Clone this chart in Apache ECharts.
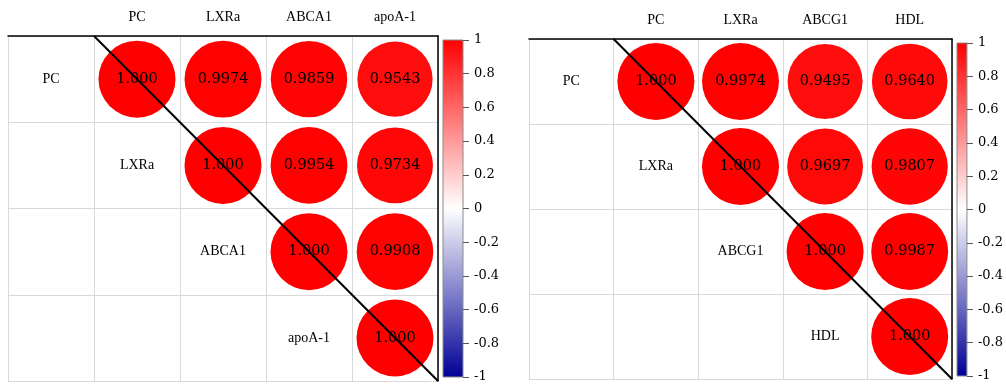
<!DOCTYPE html>
<html><head><meta charset="utf-8">
<script src="https://cdn.jsdelivr.net/npm/echarts@6/dist/echarts.min.js"></script>
<style>html,body{margin:0;padding:0;background:#fff}#c{width:1006px;height:384px}</style>
</head><body><div id="c"></div>
<script>
// ---- data ----
const varsA = ['PC', 'LXRa', 'ABCA1', 'apoA-1'];
const corrA = [
  [1, 0.9974, 0.9859, 0.9543],
  [null, 1, 0.9954, 0.9734],
  [null, null, 1, 0.9908],
  [null, null, null, 1]
];
const varsB = ['PC', 'LXRa', 'ABCG1', 'HDL'];
const corrB = [
  [1, 0.9974, 0.9495, 0.9640],
  [null, 1, 0.9697, 0.9807],
  [null, null, 1, 0.9987],
  [null, null, null, 1]
];
const colorScale = ['#000096', '#ffffff', '#ff0000'];   // -1 .. 0 .. 1
const cbMin = -1, cbMax = 1, cbStep = 0.2;

// ---- helpers ----
const SERIF = 'DejaVu Serif';
const LABEL_FONT = 'Liberation Serif';
function cells(m) {
  const out = [];
  m.forEach((row, i) => row.forEach((v, j) => { if (v !== null) out.push([j + 1, i, v]); }));
  return out;
}
function names(vars) { return vars.map((n, i) => ({ value: [i, i], name: n })); }
function diag(vars) { return [[1, 0], [vars.length + 1, vars.length]]; }
function fmt(v) { return v === 1 ? '1.000' : v.toFixed(4); }

const grids = [
  { left: 8, top: 36, width: 430, height: 345 },
  { left: 529, top: 39, width: 423, height: 340 },
  { left: 443, top: 40, width: 20, height: 337 },
  { left: 957, top: 43, width: 20, height: 333 }
];
const grad = { type: 'linear', x: 0, y: 0, x2: 0, y2: 1,
  colorStops: [{ offset: 0, color: colorScale[2] }, { offset: 0.5, color: colorScale[1] }, { offset: 1, color: colorScale[0] }] };
grids[2].show = grids[3].show = true;
grids[2].backgroundColor = grids[3].backgroundColor = grad;
grids[2].borderColor = grids[3].borderColor = '#8a8a8a';
grids[2].borderWidth = grids[3].borderWidth = 1;

function catX(vars, gi) {
  return { type: 'category', gridIndex: gi, position: 'top', data: [''].concat(vars),
    axisLine: { show: true, onZero: false, lineStyle: { color: '#000', width: 1.5 } },
    axisTick: { show: false },
    axisLabel: { margin: 12, fontFamily: LABEL_FONT, fontSize: 14, color: '#000', interval: 0 },
    splitLine: { show: true, interval: 0, lineStyle: { color: '#d9d9d9', width: 1 } } };
}
function catY(vars, gi) {
  return { type: 'category', gridIndex: gi, position: 'right', inverse: true, data: vars,
    axisLine: { show: true, onZero: false, lineStyle: { color: '#000', width: 1.5 } },
    axisTick: { show: false }, axisLabel: { show: false },
    splitLine: { show: true, interval: 0, lineStyle: { color: '#d9d9d9', width: 1 } } };
}
function valX(n, gi) { return { type: 'value', gridIndex: gi, min: 0, max: n + 1, show: false, axisLine: { onZero: false } }; }
function valY(n, gi) { return { type: 'value', gridIndex: gi, min: 0, max: n, inverse: true, show: false, axisLine: { onZero: false } }; }
function cbX(gi) { return { type: 'value', gridIndex: gi, show: false, min: 0, max: 1, axisLine: { onZero: false } }; }
function cbY(gi) {
  return { type: 'value', gridIndex: gi, position: 'right', min: cbMin, max: cbMax, interval: cbStep,
    axisLine: { show: false, onZero: false },
    axisTick: { show: true, length: 6, lineStyle: { color: '#555' } },
    axisLabel: { margin: 11, fontFamily: SERIF, fontSize: 13, color: '#000' },
    splitLine: { show: false } };
}

function circleSeries(m, xi, yi) {
  return { type: 'scatter', xAxisIndex: xi, yAxisIndex: yi, data: cells(m), z: 3,
    symbol: 'circle', symbolSize: v => 77 * Math.sqrt(Math.abs(v[2])),
    itemStyle: { opacity: 1 },
    label: { show: true, position: 'inside', formatter: p => fmt(p.value[2]),
      fontFamily: SERIF, fontSize: 14.5, color: '#000' },
    emphasis: { disabled: true } };
}
function nameSeries(vars, xi, yi) {
  return { type: 'scatter', xAxisIndex: xi, yAxisIndex: yi, data: names(vars), symbolSize: 0, z: 3,
    itemStyle: { opacity: 1 },
    label: { show: true, position: 'inside', formatter: p => p.name,
      fontFamily: LABEL_FONT, fontSize: 14, color: '#000' },
    emphasis: { disabled: true } };
}
function lineSeries(vars, xi, yi) {
  return { type: 'line', xAxisIndex: xi, yAxisIndex: yi, data: diag(vars), symbol: 'none', z: 10,
    lineStyle: { color: '#000', width: 2 }, clip: false, silent: true };
}

const chart = echarts.init(document.getElementById('c'), null, { renderer: 'canvas' });
chart.setOption({
  animation: false,
  backgroundColor: '#fff',
  grid: grids,
  xAxis: [catX(varsA, 0), valX(varsA.length, 0), catX(varsB, 1), valX(varsB.length, 1), cbX(2), cbX(3)],
  yAxis: [catY(varsA, 0), valY(varsA.length, 0), catY(varsB, 1), valY(varsB.length, 1), cbY(2), cbY(3)],
  visualMap: [{ show: false, type: 'continuous', min: cbMin, max: cbMax, dimension: 2,
    seriesIndex: [0, 3], inRange: { color: colorScale } }],
  series: [
    circleSeries(corrA, 0, 0), nameSeries(varsA, 0, 0), lineSeries(varsA, 1, 1),
    circleSeries(corrB, 2, 2), nameSeries(varsB, 2, 2), lineSeries(varsB, 3, 3),
    { type: 'scatter', xAxisIndex: 4, yAxisIndex: 4, data: [] },
    { type: 'scatter', xAxisIndex: 5, yAxisIndex: 5, data: [] }
  ]
});
</script></body></html>
